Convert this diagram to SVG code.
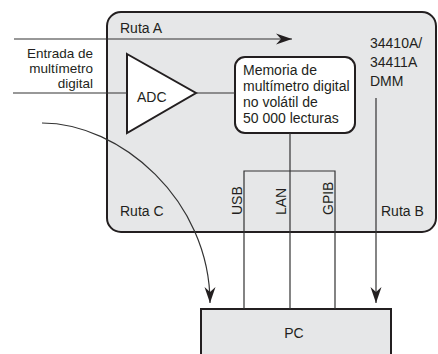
<svg xmlns="http://www.w3.org/2000/svg" width="438" height="354" viewBox="0 0 438 354">
  <style>
    .t { font-family: "Liberation Sans", Arial, sans-serif; font-size: 14px; fill: #231f20; }
    .sm { font-size: 13.5px; }
    .thin { fill: none; stroke: #333; stroke-width: 1.2; }
    .box { fill: #e6e7e8; stroke: #231f20; stroke-width: 2; }
  </style>
  <defs>
    <marker id="arrow" markerUnits="userSpaceOnUse" markerWidth="20" markerHeight="14" viewBox="-17 -7 20 14" refX="0" refY="0" orient="auto">
      <path d="M0,0 L-16,-5.5 L-11,0 L-16,5.5 Z" fill="#231f20"/>
    </marker>
  </defs>

  <!-- DMM enclosure -->
  <g id="dmm">
    <rect class="box" x="107" y="12" width="329" height="220" rx="14"/>
    <text class="t" x="120" y="33">Ruta A</text>
    <text class="t" x="120" y="216">Ruta C</text>
    <text class="t" x="381" y="216">Ruta B</text>
    <text class="t" x="370" y="48">34410A/</text>
    <text class="t" x="370" y="67">34411A</text>
    <text class="t" x="370" y="86">DMM</text>
  </g>

  <!-- Input label -->
  <g id="input">
    <text class="t sm" text-anchor="end" x="93" y="58">Entrada de</text>
    <text class="t sm" text-anchor="end" x="93" y="73">multímetro</text>
    <text class="t sm" text-anchor="end" x="93" y="88">digital</text>
  </g>

  <!-- ADC amplifier -->
  <g id="adc">
    <polygon points="127,54 196,93 127,133" fill="#fff" stroke="#231f20" stroke-width="2" stroke-linejoin="miter"/>
    <text class="t" x="137" y="102">ADC</text>
  </g>

  <!-- Reading memory -->
  <g id="memory">
    <rect x="235" y="57" width="120" height="76" rx="10" fill="#fff" stroke="#231f20" stroke-width="2"/>
    <text class="t" x="243" y="75">Memoria de</text>
    <text class="t" x="243" y="91">multímetro digital</text>
    <text class="t" x="243" y="107">no volátil de</text>
    <text class="t" x="243" y="123">50 000 lecturas</text>
  </g>

  <!-- Interface labels -->
  <g id="interfaces">
    <text class="t" transform="translate(242,215) rotate(-90)">USB</text>
    <text class="t" transform="translate(286,215) rotate(-90)">LAN</text>
    <text class="t" transform="translate(333,215) rotate(-90)">GPIB</text>
  </g>

  <!-- PC -->
  <g id="pc">
    <rect class="box" x="201" y="309" width="190" height="60"/>
    <text class="t" x="294" y="338" text-anchor="middle">PC</text>
  </g>

  <!-- Connectors -->
  <g id="connectors">
    <path class="thin" d="M14,39 H292" marker-end="url(#arrow)"/>
    <path class="thin" d="M13,93 H127"/>
    <path class="thin" d="M196,93 H235"/>
    <path class="thin" d="M290,133 V309"/>
    <path class="thin" d="M244,309 V171 H335 V309"/>
    <path class="thin" d="M376,98 V303" marker-end="url(#arrow)"/>
    <path class="thin" d="M42,123 C120,123 210,200 210,303" marker-end="url(#arrow)"/>
  </g>
</svg>
